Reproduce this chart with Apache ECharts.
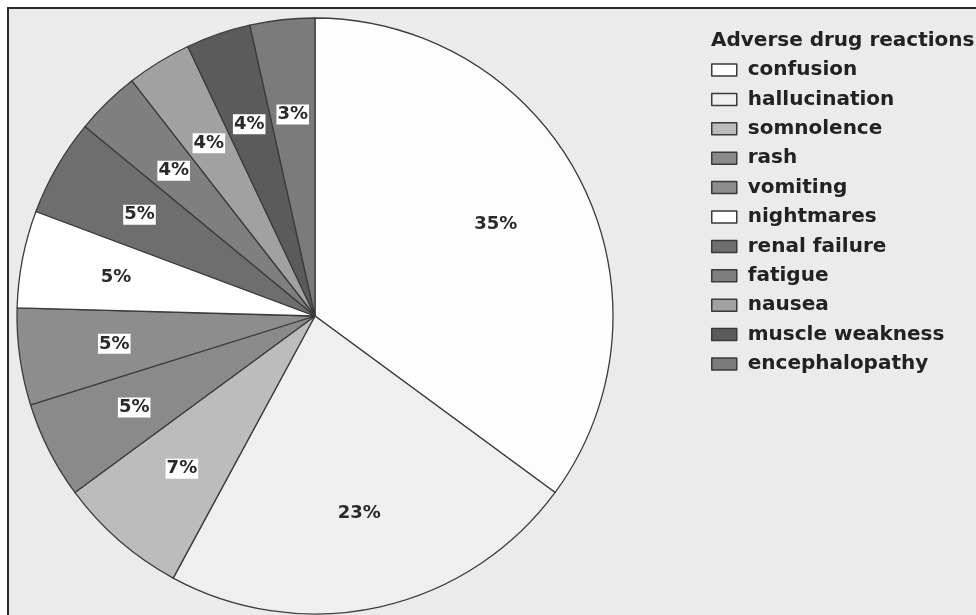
<!DOCTYPE html>
<html>
<head>
<meta charset="utf-8">
<script src="https://cdn.jsdelivr.net/npm/echarts@6/dist/echarts.min.js"></script>
<style>
  html, body { margin: 0; padding: 0; background: #ffffff; }
  #chart { width: 976px; height: 615px; }
</style>
</head>
<body>
<div id="chart"></div>
<script>
// Adverse drug reactions: number of reports per reaction (57 in total)
const reactions = ['confusion', 'hallucination', 'somnolence', 'rash', 'vomiting', 'nightmares',
                   'renal failure', 'fatigue', 'nausea', 'muscle weakness', 'encephalopathy'];
const reportCounts = [20, 13, 4, 3, 3, 3, 3, 2, 2, 2, 2];
const sliceColors = ['#fdfdfd', '#efefef', '#bcbcbc', '#8a8a8a', '#8d8d8d', '#ffffff',
                     '#6e6e6e', '#7f7f7f', '#a1a1a1', '#5b5b5b', '#7b7b7b'];

const FONT = 'DejaVu Sans';
const CX = 315, CY = 316, R = 298;

// Whole percentages that add up to 100 (largest-remainder rounding)
function roundedPercents(values) {
  const total = values.reduce((a, b) => a + b, 0);
  const raw = values.map(v => v * 100 / total);
  const out = raw.map(Math.floor);
  let left = 100 - out.reduce((a, b) => a + b, 0);
  const order = raw.map((v, i) => i).sort((a, b) => (raw[b] - out[b]) - (raw[a] - out[a]) || a - b);
  for (let k = 0; k < left; k++) out[order[k]] += 1;
  return out;
}
const percents = roundedPercents(reportCounts);

function isLight(hex) {
  return parseInt(hex.slice(1, 3), 16) > 0xe0;
}

const pieData = reactions.map((name, i) => ({
  name: name,
  value: reportCounts[i],
  itemStyle: { color: sliceColors[i] }
}));

const labelData = reactions.map((name, i) => ({
  name: name,
  value: reportCounts[i],
  label: Object.assign({ formatter: percents[i] + '%' },
    isLight(sliceColors[i]) ? {} : { backgroundColor: '#ffffff', padding: [2, 1, 0, 1] })
}));

const chart = echarts.init(document.getElementById('chart'), null, { renderer: 'canvas' });
chart.setOption({
  backgroundColor: '#ffffff',
  animation: false,
  graphic: [{
    type: 'rect',
    shape: { x: 8, y: 8, width: 980, height: 620 },
    style: { fill: '#ebebeb', stroke: '#2a2a2a', lineWidth: 2 },
    z: -10
  }],
  title: {
    text: 'Adverse drug reactions',
    left: 711, top: 31,
    padding: 0,
    textStyle: { fontFamily: FONT, fontSize: 20, fontWeight: 'bold', color: '#222' }
  },
  legend: {
    orient: 'vertical',
    left: 711, top: 60,
    padding: 0,
    itemWidth: 25, itemHeight: 12,
    itemGap: 9.4,
    icon: 'rect',
    data: reactions.map((name, i) => ({
      name: name,
      itemStyle: { color: sliceColors[i], borderColor: '#3a3a3a', borderWidth: 1.5 }
    })),
    textStyle: { fontFamily: FONT, fontSize: 20, fontWeight: 'bold', color: '#222',
                 lineHeight: 20, padding: [0, 0, 0, 6] },
    selectedMode: false
  },
  series: [
    {
      type: 'pie',
      center: [CX, CY],
      radius: [0, R],
      startAngle: 90,
      clockwise: true,
      silent: true,
      data: pieData,
      label: { show: false },
      labelLine: { show: false },
      itemStyle: { borderColor: '#3c3c3c', borderWidth: 1.3 }
    },
    {
      // transparent ring that carries the percentage labels
      type: 'pie',
      center: [CX, CY],
      radius: [R * 0.34, R],
      startAngle: 90,
      clockwise: true,
      silent: true,
      data: labelData,
      itemStyle: { color: 'rgba(0,0,0,0)', borderWidth: 0 },
      label: {
        show: true,
        position: 'inside',
        fontFamily: FONT, fontSize: 18, fontWeight: 'bold', color: '#2a2a2a'
      },
      labelLine: { show: false }
    }
  ]
});
</script>
</body>
</html>
